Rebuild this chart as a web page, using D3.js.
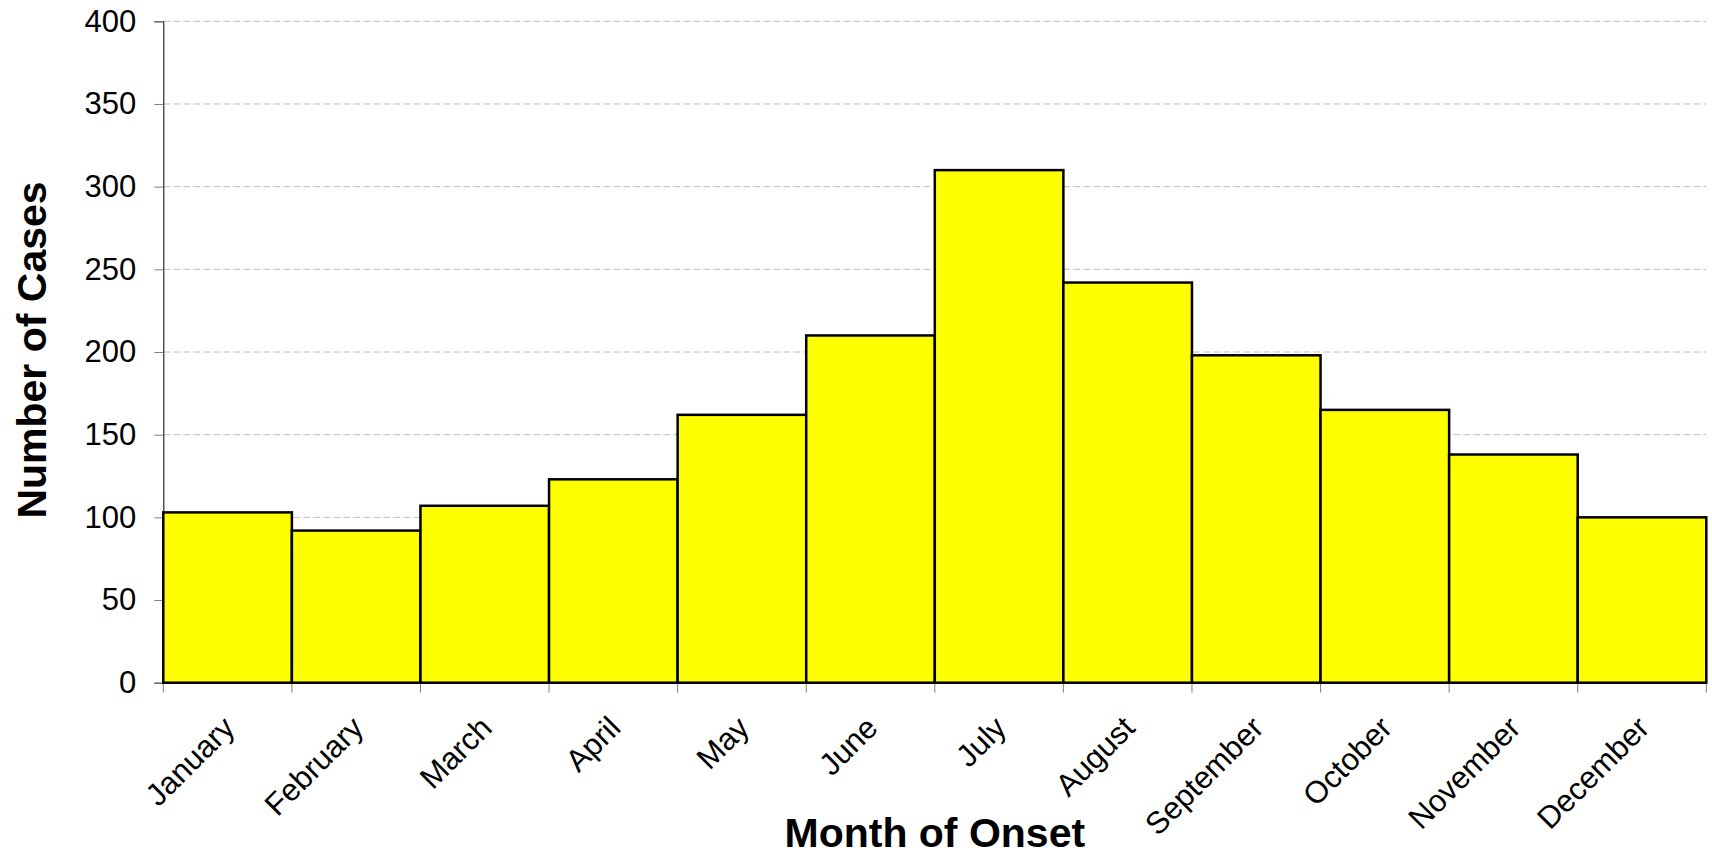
<!DOCTYPE html>
<html>
<head>
<meta charset="utf-8">
<script src="https://cdn.jsdelivr.net/npm/d3@7"></script>
<style>
  body { margin: 0; background: #fff; }
  text { font-family: "Liberation Sans", Arial, sans-serif; fill: #000; }
</style>
</head>
<body>
<script>
const months = ["January", "February", "March", "April", "May", "June",
  "July", "August", "September", "October", "November", "December"];
const cases = [103, 92, 107, 123, 162, 210, 310, 242, 198, 165, 138, 100];
const yTicks = [0, 50, 100, 150, 200, 250, 300, 350, 400];

const width = 1712;
const height = 856;
const margin = { top: 21.3, right: 5.7, bottom: 173.3, left: 163.3 };

const svg = d3.select("body").append("svg")
  .attr("width", width)
  .attr("height", height);

const x = d3.scaleBand()
  .domain(months)
  .range([margin.left, width - margin.right])
  .padding(0);

const y = d3.scaleLinear()
  .domain([0, 400])
  .range([height - margin.bottom, margin.top]);

// dashed gridlines
svg.append("g")
  .selectAll("line")
  .data(yTicks.filter(d => d > 0))
  .join("line")
  .attr("x1", margin.left)
  .attr("x2", width - margin.right)
  .attr("y1", d => y(d))
  .attr("y2", d => y(d))
  .attr("stroke", "#c0c0c0")
  .attr("stroke-width", 1)
  .attr("stroke-dasharray", "7,3");

// y axis
const yAxis = svg.append("g")
  .attr("transform", `translate(${margin.left},0)`)
  .call(d3.axisLeft(y).tickValues(yTicks).tickSize(9).tickPadding(18));
yAxis.select(".domain").attr("stroke", "#000");
yAxis.selectAll(".tick line").attr("stroke", "#808080");
yAxis.selectAll(".tick text")
  .style("font-size", "31px")
  .style("font-family", "'Liberation Sans', Arial, sans-serif")
  .attr("fill", "#000");

// x axis ticks at the bar edges
const edges = months.map(m => x(m)).concat([x(months[11]) + x.bandwidth()]);
svg.append("g")
  .selectAll("line")
  .data(edges)
  .join("line")
  .attr("x1", d => d)
  .attr("x2", d => d)
  .attr("y1", y(0))
  .attr("y2", y(0) + 10)
  .attr("stroke", "#808080")
  .attr("stroke-width", 1);

// bars
svg.append("g")
  .selectAll("rect")
  .data(cases)
  .join("rect")
  .attr("x", (d, i) => x(months[i]))
  .attr("y", d => y(d))
  .attr("width", x.bandwidth())
  .attr("height", d => y(0) - y(d))
  .attr("fill", "#ffff00")
  .attr("stroke", "#000")
  .attr("stroke-width", 2.5);

// month labels
svg.append("g")
  .selectAll("text")
  .data(months)
  .join("text")
  .attr("transform", d => `translate(${x(d) + x.bandwidth() / 2 + 9},${y(0) + 47}) rotate(-45)`)
  .attr("text-anchor", "end")
  .style("font-size", "31px")
  .text(d => d);

// axis titles
svg.append("text")
  .attr("x", (margin.left + width - margin.right) / 2)
  .attr("y", 847)
  .attr("text-anchor", "middle")
  .style("font-size", "41px")
  .style("font-weight", "bold")
  .text("Month of Onset");

svg.append("text")
  .attr("transform", `translate(46,350) rotate(-90)`)
  .attr("text-anchor", "middle")
  .style("font-size", "41px")
  .style("font-weight", "bold")
  .text("Number of Cases");
</script>
</body>
</html>
